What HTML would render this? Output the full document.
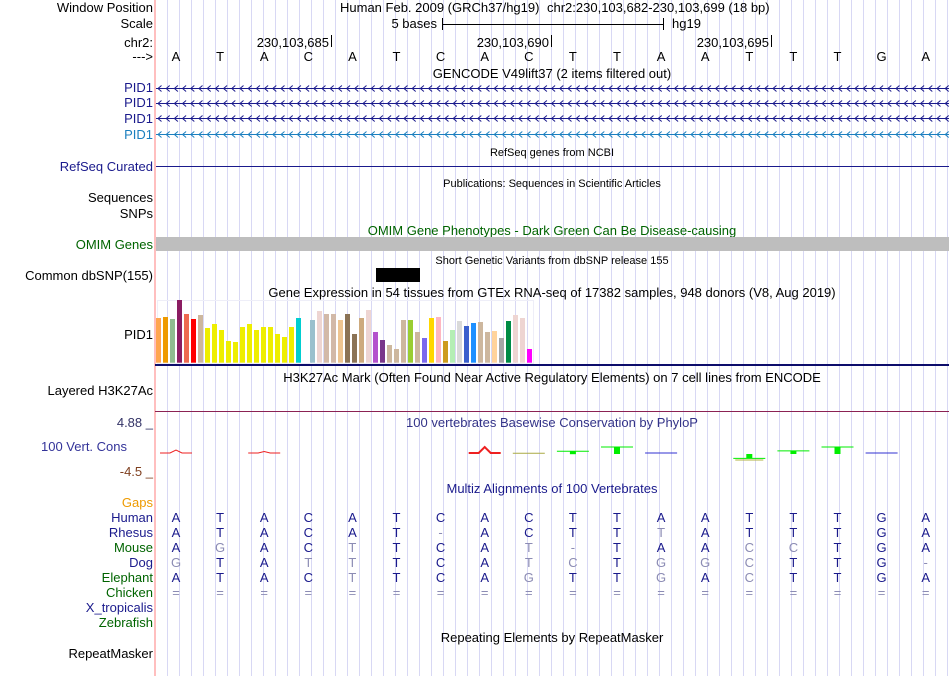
<!DOCTYPE html>
<html><head><meta charset="utf-8"><style>
html,body{margin:0;padding:0;background:#fff}
svg{display:block;font-family:"Liberation Sans",sans-serif}
</style></head><body>
<svg id="chart" width="950" height="676" viewBox="0 0 950 676" xmlns="http://www.w3.org/2000/svg">
<g id="grid"></g>
<line x1="155" y1="0" x2="155" y2="676" stroke="#ffaaaa" stroke-width="1.5"/>
<g id="labels" font-size="13" text-anchor="end">
<text x="153" y="12" fill="#000">Window Position</text>
<text x="153" y="28" fill="#000">Scale</text>
<text x="153" y="47" fill="#000">chr2:</text>
<text x="153" y="61" fill="#000">---&gt;</text>
<text x="153" y="92" fill="#1a1a8c">PID1</text>
<text x="153" y="107" fill="#1a1a8c">PID1</text>
<text x="153" y="123" fill="#1a1a8c">PID1</text>
<text x="153" y="139" fill="#1b7fbf">PID1</text>
<text x="153" y="171" fill="#1a1a8c">RefSeq Curated</text>
<text x="153" y="202" fill="#000">Sequences</text>
<text x="153" y="218" fill="#000">SNPs</text>
<text x="153" y="249" fill="#006400">OMIM Genes</text>
<text x="153" y="280" fill="#000">Common dbSNP(155)</text>
<text x="153" y="339" fill="#000">PID1</text>
<text x="153" y="395" fill="#000">Layered H3K27Ac</text>
<text x="153" y="427" fill="#333366">4.88 _</text>
<text x="127" y="451" fill="#333399">100 Vert. Cons</text>
<text x="153" y="476" fill="#7f3f1f">-4.5 _</text>
<text x="153" y="507" fill="#ee9a00">Gaps</text>
<text x="153" y="522" fill="#1a1a8c">Human</text>
<text x="153" y="537" fill="#1a1a8c">Rhesus</text>
<text x="153" y="552" fill="#006400">Mouse</text>
<text x="153" y="567" fill="#1a1a8c">Dog</text>
<text x="153" y="582" fill="#006400">Elephant</text>
<text x="153" y="597" fill="#006400">Chicken</text>
<text x="153" y="612" fill="#1a1a8c">X_tropicalis</text>
<text x="153" y="627" fill="#006400">Zebrafish</text>
<text x="153" y="658" fill="#000">RepeatMasker</text>
</g>
<g font-size="13" fill="#000">
<text x="340" y="12">Human Feb. 2009 (GRCh37/hg19)</text>
<text x="547" y="12">chr2:230,103,682-230,103,699 (18 bp)</text>
<text x="437" y="28" text-anchor="end">5 bases</text>
<g stroke="#000"><line x1="442.5" y1="18" x2="442.5" y2="30"/><line x1="663.5" y1="18" x2="663.5" y2="30"/><line x1="442" y1="24.5" x2="664" y2="24.5"/></g>
<text x="672" y="28">hg19</text>
<text x="329" y="47" text-anchor="end">230,103,685</text>
<text x="549" y="47" text-anchor="end">230,103,690</text>
<text x="769" y="47" text-anchor="end">230,103,695</text>
<g stroke="#000"><line x1="331.5" y1="35" x2="331.5" y2="47"/><line x1="551.5" y1="35" x2="551.5" y2="47"/><line x1="771.5" y1="35" x2="771.5" y2="47"/></g>
<g id="bases"></g>
<text x="552" y="78" text-anchor="middle">GENCODE V49lift37 (2 items filtered out)</text>
<g id="tx"></g>
<text x="552" y="156" font-size="11" text-anchor="middle">RefSeq genes from NCBI</text>
<line x1="156" y1="166.5" x2="949" y2="166.5" stroke="#1a1a8c"/>
<text x="552" y="187" font-size="11" text-anchor="middle">Publications: Sequences in Scientific Articles</text>
<text x="552" y="235" text-anchor="middle" fill="#006400">OMIM Gene Phenotypes - Dark Green Can Be Disease-causing</text>
<rect x="156" y="237" width="793" height="14" fill="#bebebe"/>
<text x="552" y="264" font-size="11" text-anchor="middle">Short Genetic Variants from dbSNP release 155</text>
<rect x="376" y="268" width="44" height="14" fill="#000"/>
<text x="552" y="297" text-anchor="middle">Gene Expression in 54 tissues from GTEx RNA-seq of 17382 samples, 948 donors (V8, Aug 2019)</text>
<rect x="157.5" y="300.5" width="376" height="63" fill="none" stroke="#eeeef8"/>
<g id="gtex"></g>
<line x1="155" y1="365" x2="949" y2="365" stroke="#0d0d6b" stroke-width="2"/>
<text x="552" y="382" text-anchor="middle">H3K27Ac Mark (Often Found Near Active Regulatory Elements) on 7 cell lines from ENCODE</text>
<line x1="155" y1="411.5" x2="949" y2="411.5" stroke="#8b2252"/>
<text x="552" y="427" text-anchor="middle" fill="#333388">100 vertebrates Basewise Conservation by PhyloP</text>
<g id="phylo"></g>
<text x="552" y="493" text-anchor="middle" fill="#1a1a8c">Multiz Alignments of 100 Vertebrates</text>
<g id="aln"></g>
<text x="552" y="642" text-anchor="middle">Repeating Elements by RepeatMasker</text>
</g>
</svg>
<script>
const NS='http://www.w3.org/2000/svg';
const refBases=['A','T','A','C','A','T','C','A','C','T','T','A','A','T','T','T','G','A'];
const gtexValues=[44.7,45.7,43.7,62.7,48.7,43.7,47.7,34.7,38.7,32.7,21.7,20.7,35.7,38.7,32.7,35.7,35.7,28.7,25.7,35.7,44.7,0,42.7,51.7,48.7,48.7,42.7,48.7,28.7,44.7,52.7,30.7,22.7,17.7,13.7,42.7,42.7,30.7,24.7,44.7,45.7,21.7,32.7,41.7,36.7,39.7,40.7,30.7,31.7,24.7,41.7,47.7,44.7,13.7];
const gtexColors=['#FFA54F','#EE9A00','#8FBC8F','#8B1C62','#EE6A50','#FF0000','#CDB79E','#EEEE00','#EEEE00','#EEEE00','#EEEE00','#EEEE00','#EEEE00','#EEEE00','#EEEE00','#EEEE00','#EEEE00','#EEEE00','#EEEE00','#EEEE00','#00CED1','#CC66FF','#9AC0CD','#EED5D2','#D2B9A8','#D2B9A8','#EEC591','#8B7355','#8B7355','#CDAA7D','#EED5D2','#B452CD','#7A378B','#CDB79E','#CDB79E','#CDB79E','#9ACD32','#CDB79E','#7B68EE','#FFD700','#FFB6C1','#CD9B1D','#B4EEB4','#D9D9D9','#3A5FCD','#1E90FF','#CDB79E','#CDB79E','#FFD39B','#A6A6A6','#008B45','#EED5D2','#EED5D2','#FF00FF'];
const phyloValues=[0.2,null,0.1,null,null,null,null,0.4,-0.1,0.6,2.0,0,null,-1.8,0.7,2.0,0,null];
const alnRows=['ATACATCACTTAATTTGA','ATACAT-ACTTTATTTGA','AGACTTCAT-TAACCTGA','GTATTTCATCTGGCTTG-','ATACTTCAGTTGACTTGA','=================='];
const alnMismatch=[[],[6,11],[1,4,8,9,13,14],[0,3,4,8,9,11,12,13,17],[4,8,11,13],[]];

const X0=176, PITCH=44.1;
const xBase=i=>X0+i*PITCH;
const GT_X0=156, GT_PITCH=7, GT_BASE=362.7;
const xGtex=i=>GT_X0+i*GT_PITCH;
const yGtex=v=>GT_BASE-v;
const PY0=453;
const yPhylo=v=>PY0-v*3;

const grid=document.getElementById('grid');
for(let x=167.5;x<950;x+=12){
  const l=document.createElementNS(NS,'line');
  l.setAttribute('x1',x);l.setAttribute('x2',x);l.setAttribute('y1',0);l.setAttribute('y2',676);
  l.setAttribute('stroke','#d8d8f4');
  
  
  grid.appendChild(l);
}
const tx=document.getElementById('tx');
[[88.5,'#1a1a8c'],[103.5,'#1a1a8c'],[118.5,'#1a1a8c'],[134.5,'#1b7fbf']].forEach(([y,c])=>{
  let d='M156 '+y+' H949';
  for(let x=158;x<946;x+=8.2){d+=' M'+(x+3.5).toFixed(1)+' '+(y-3)+' L'+x.toFixed(1)+' '+y+' L'+(x+3.5).toFixed(1)+' '+(y+3);}
  const p=document.createElementNS(NS,'path');
  p.setAttribute('d',d);p.setAttribute('stroke',c);p.setAttribute('fill','none');p.setAttribute('stroke-width','1');
  
  
  tx.appendChild(p);
});
const bases=document.getElementById('bases');
refBases.forEach((b,i)=>{
  const t=document.createElementNS(NS,'text');
  t.setAttribute('x',xBase(i));t.setAttribute('y',61);t.setAttribute('text-anchor','middle');
  t.textContent=b;
  
  
  bases.appendChild(t);
});
const gtex=document.getElementById('gtex');
gtexValues.forEach((v,i)=>{
  const r=document.createElementNS(NS,'rect');
  r.setAttribute('x',xGtex(i));r.setAttribute('width',5);
  r.setAttribute('y',yGtex(v));r.setAttribute('height',GT_BASE-yGtex(v));
  r.setAttribute('fill',gtexColors[i]);
  
  
  gtex.appendChild(r);
});
const phylo=document.getElementById('phylo');
phyloValues.forEach((v,i)=>{
  if(v===null)return;
  const g=document.createElementNS(NS,'g');
  
  
  let col;
  if(v>=0.5||v<=-1)col='#00ee00';
  else if(v>0)col='#ee2020';
  else if(v<0)col='#aaaa44';
  else col='#3030d0';
  const y=yPhylo(v);
  const cx=xBase(i);
  if(v>0&&v<0.5){
    const p=document.createElementNS(NS,'path');
    p.setAttribute('d','M'+(cx-16)+' '+PY0+' L'+(cx-6)+' '+PY0+' L'+cx+' '+(y-3*v*4)+' L'+(cx+6)+' '+PY0+' L'+(cx+16)+' '+PY0);
    p.setAttribute('stroke',col);p.setAttribute('fill','none');p.setAttribute('stroke-width',v>0.3?2:1);
    g.appendChild(p);
  } else {
    const l=document.createElementNS(NS,'line');
    l.setAttribute('x1',cx-16);l.setAttribute('x2',cx+16);
    l.setAttribute('y1',y);l.setAttribute('y2',y);
    l.setAttribute('stroke',col);
    g.appendChild(l);
    if(Math.abs(v)>=0.5){
      const r=document.createElementNS(NS,'rect');
      r.setAttribute('x',cx-3);r.setAttribute('width',6);
      r.setAttribute('y',Math.min(y,PY0+1));r.setAttribute('height',Math.max(3,Math.abs(PY0+1-y)));
      r.setAttribute('fill',col);
      g.appendChild(r);
      if(v<0){
        const l2=document.createElementNS(NS,'line');
        l2.setAttribute('x1',cx-14);l2.setAttribute('x2',cx+14);
        l2.setAttribute('y1',PY0+7);l2.setAttribute('y2',PY0+7);
        l2.setAttribute('stroke','#b0b040');
        g.appendChild(l2);
      }
    }
  }
  phylo.appendChild(g);
});
const aln=document.getElementById('aln');
alnRows.forEach((row,r)=>{
  row.split('').forEach((c,i)=>{
    const t=document.createElementNS(NS,'text');
    t.setAttribute('x',xBase(i));t.setAttribute('y',522+r*15);t.setAttribute('text-anchor','middle');
    const mm=alnMismatch[r].includes(i)||r===5;
    t.setAttribute('fill',mm?'#8c8cb4':'#1a1a8c');
    t.textContent=c;
    
    
    aln.appendChild(t);
  });
});
</script>
</body></html>
